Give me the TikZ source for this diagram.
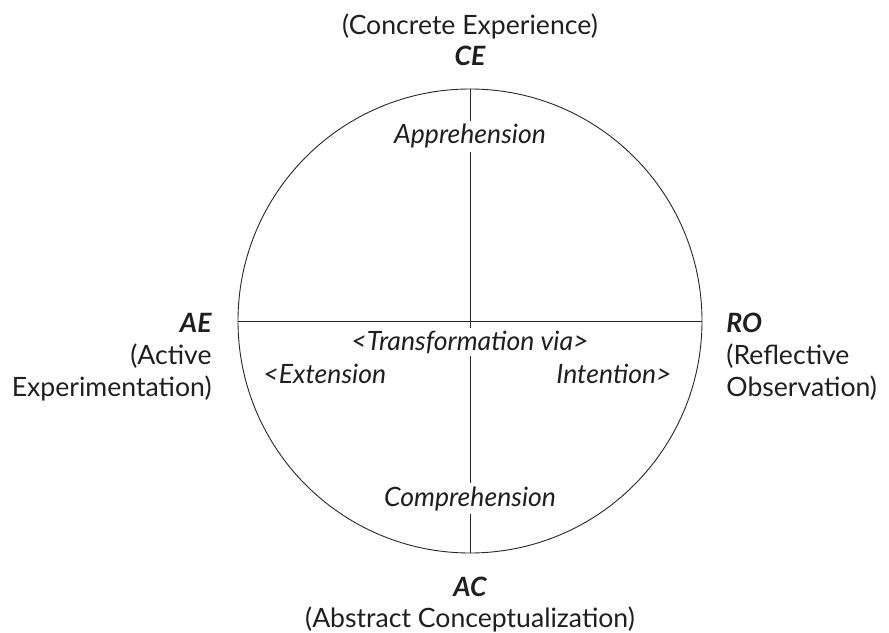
\documentclass[tikz,border=0pt]{standalone}
\usepackage{fontspec}
\setmainfont{Lato}
\usetikzlibrary{positioning}

\tikzset{
	label/.style = {font = \fontsize{26.6bp}{32bp}\selectfont, inner sep = 0pt, text = black!88},
	mode/.style = {label, font = \fontsize{26.6bp}{32bp}\selectfont\bfseries\itshape},
	via/.style = {label, font = \fontsize{26.6bp}{32bp}\selectfont\itshape, fill = white, inner sep = 3bp}
}

\begin{document}
\begin{tikzpicture}[x = 1bp, y = -1bp, line width = 0.9pt]

	\useasboundingbox (0, 0) rectangle (889, 633);

	% Circle + axes

	\node [circle, draw = black!85, minimum size = 464bp, inner sep = 0pt] (cycle) at (470, 321) {};

	\draw [black!85] (cycle.north) -- (cycle.south);
	\draw [black!85] (cycle.west) -- (cycle.east);

	% Modes

	\node [label, anchor = base] (ce-text) at (470, 35) {(Concrete Experience)};
	\node [mode, anchor = base] (ce) at (470, 66) {CE};

	\node [mode, anchor = base east] (ae) at (212, 332) {AE};
	\node [label, anchor = base east] (ae-text1) at (212, 364) {(Active};
	\node [label, anchor = base east] (ae-text2) at (212, 396) {Experimentation)};

	\node [mode, anchor = base west] (ro) at (726, 332) {RO};
	\node [label, anchor = base west] (ro-text1) at (726, 364) {(Reflective};
	\node [label, anchor = base west] (ro-text2) at (726, 396) {Observation)};

	\node [mode, anchor = base] (ac) at (470, 596) {AC};
	\node [label, anchor = base] (ac-text) at (470, 627) {(Abstract Conceptualization)};

	% Grasping + transforming

	\node [via, anchor = base] (apprehension) at (470, 144) {Apprehension};
	\node [via, anchor = base] (comprehension) at (470, 506) {Comprehension};
	\node [via, anchor = base] (transformation) at (470, 350) {<Transformation via>};

	\node [label, font = \fontsize{26.6bp}{32bp}\selectfont\itshape, anchor = base west] (extension) at (263, 383) {<Extension};
	\node [label, font = \fontsize{26.6bp}{32bp}\selectfont\itshape, anchor = base east] (intention) at (672, 383) {Intention>};

\end{tikzpicture}
\end{document}
